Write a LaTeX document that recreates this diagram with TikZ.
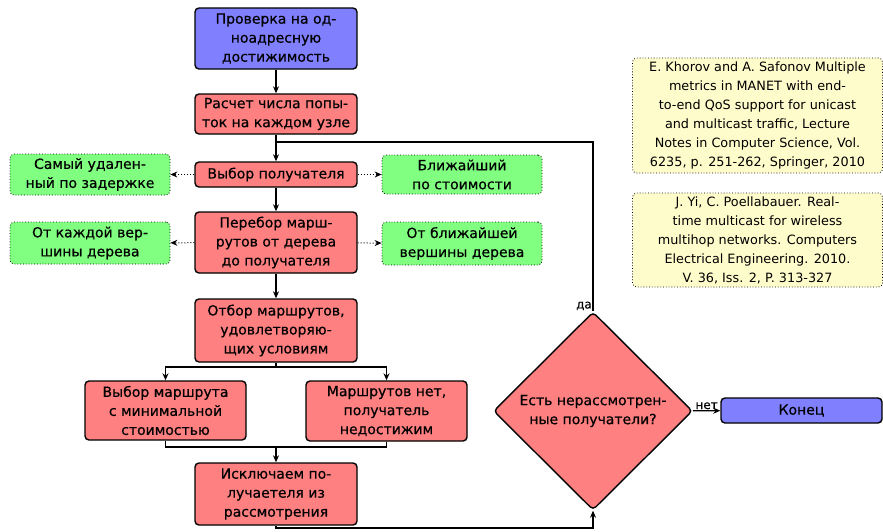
\documentclass[tikz,border=0pt]{standalone}
\usepackage{fontspec}
\setmainfont{DejaVu Sans}
\newfontfamily\boxfont[BoldFont=DejaVu Sans, BoldFeatures={FakeBold=0.5}]{DejaVu Sans}
\usetikzlibrary{shapes.geometric,arrows.meta,calc}
\begin{document}
\begin{tikzpicture}[x=1pt,y=-1pt,
  mainfont/.style={font=\boxfont\bfseries\fontsize{14}{19}\selectfont},
  box/.style={draw, line width=1.4pt, rounded corners=4pt, align=center, inner sep=0pt, mainfont},
  redbox/.style={box, fill=red!50},
  bluebox/.style={box, fill=blue!50},
  greenbox/.style={draw, dotted, line width=0.8pt, rounded corners=4pt, fill=green!50, align=center, inner sep=0pt, mainfont},
  yellowbox/.style={draw, dotted, line width=0.8pt, rounded corners=4pt, fill=yellow!20, align=center, inner sep=0pt, font=\fontsize{12.8}{19}\selectfont},
  arr/.style={line width=1.1pt, -{Stealth[length=7pt,width=6pt]}},
  plain/.style={line width=1.1pt},
  darr/.style={line width=1pt, dotted, -{Stealth[length=7pt,width=6pt]}},
  lbl/.style={font=\boxfont\bfseries\fontsize{12}{13}\selectfont, inner sep=1pt}
]
\useasboundingbox (0,0) rectangle (883,531);

\node[bluebox, minimum width=162pt, minimum height=61pt] (b1) at (276,38.5) {Проверка на од-\\ноадресную\\достижимость};
\node[redbox, minimum width=162pt, minimum height=40pt] (b2) at (276,114) {Расчет числа попы-\\ток на каждом узле};
\node[redbox, minimum width=162pt, minimum height=25pt] (b3) at (276,174.5) {Выбор получателя};
\node[redbox, minimum width=162pt, minimum height=61pt] (b4) at (276,242.5) {Перебор марш-\\рутов от дерева\\до получателя};
\node[greenbox, minimum width=160pt, minimum height=41pt] (gl1) at (90,174.5) {Самый удален-\\ный по задержке};
\node[greenbox, minimum width=160pt, minimum height=42pt] (gl2) at (90,243) {От каждой вер-\\шины дерева};
\node[greenbox, minimum width=160pt, minimum height=39pt] (gr1) at (462,174.5) {Ближайший\\по стоимости};
\node[greenbox, minimum width=160pt, minimum height=43pt] (gr2) at (462,243.5) {От ближайшей\\вершины дерева};
\node[redbox, minimum width=162pt, minimum height=63pt] (b5) at (276,330.5) {Отбор маршрутов,\\удовлетворяю-\\щих условиям};
\node[redbox, minimum width=161pt, minimum height=59pt] (b6) at (165.5,410.5) {Выбор маршрута\\с минимальной\\стоимостью};
\node[redbox, minimum width=161pt, minimum height=60pt] (b7) at (386.5,411) {Маршрутов нет,\\получатель\\недостижим};
\node[redbox, minimum width=162pt, minimum height=62pt] (b8) at (276,494) {Исключаем по-\\лучаетеля из\\рассмотрения};
\node[draw, line width=1.4pt, fill=red!50, diamond, rounded corners=4pt, inner sep=0pt, minimum width=199pt, minimum height=198pt, align=center, mainfont] (dia) at (593,411) {Есть нерассмотрен-\\ные получатели?};
\node[bluebox, minimum width=161pt, minimum height=25pt] (end) at (801.5,410.5) {Конец};
\node[yellowbox, minimum width=250pt, minimum height=115pt] (y1) at (757.5,115.5) {E. Khorov and A. Safonov Multiple\\metrics in MANET with end-\\to-end QoS support for unicast\\and multicast traffic, Lecture\\Notes in Computer Science, Vol.\\6235, p. 251-262, Springer, 2010};
\node[yellowbox, minimum width=250pt, minimum height=94pt] (y2) at (757.5,240) {J. Yi, C. Poellabauer. Real-\\time multicast for wireless\\multihop networks. Computers\\Electrical Engineering. 2010.\\V. 36, Iss. 2, P. 313-327};

\draw[arr] (b1) -- (b2);
\draw[arr] (b2) -- (b3);
\draw[arr] (b3) -- (b4);
\draw[arr] (b4) -- (b5);
\draw[darr] (b3) -- (gl1);
\draw[darr] (b3) -- (gr1);
\draw[darr] (b4) -- (gl2);
\draw[darr] (b4) -- (gr2);

\coordinate (br) at (276,367);
\draw[plain] (b5) -- (br);
\draw[arr] (br) -| (b6);
\draw[arr] (br) -| (b7);

\coordinate (mg) at (276,447);
\draw[plain] (b6) |- (mg);
\draw[plain] (b7) |- (mg);
\draw[arr] (mg) -- (b8);

\coordinate (lp) at (276,528);
\draw[arr] (b8) -- (lp) -| (dia);

\coordinate (jn) at (276,142);
\draw[plain] (dia) |- (jn);
\node[lbl, anchor=south east] (yes) at (dia.north) {да};

\draw[arr] (dia) -- node[lbl, above] (no) {нет} (end);
\end{tikzpicture}
\end{document}
